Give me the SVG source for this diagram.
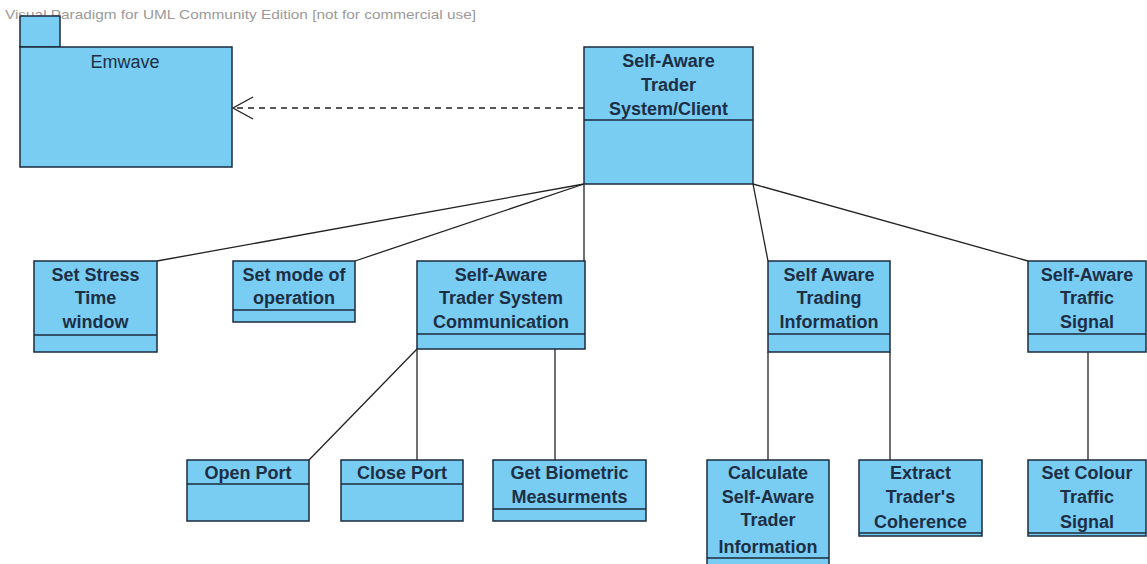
<svg xmlns="http://www.w3.org/2000/svg" width="1147" height="564" viewBox="0 0 1147 564">
  <style>
    .box { fill: #79ccf2; stroke: #1c2b3e; stroke-width: 1.5; }
    .sep { stroke: #1c2b3e; stroke-width: 1.5; fill: none; }
    .lbl { font-family: "Liberation Sans", Arial, sans-serif; font-size: 18px; font-weight: bold; fill: #1d2f45; text-anchor: middle; }
    .pkg { font-family: "Liberation Sans", Arial, sans-serif; font-size: 18px; fill: #1d2f45; text-anchor: middle; }
    .wm { font-family: "Liberation Sans", Arial, sans-serif; font-size: 13px; fill: #9a9a9a; }
    .conn { stroke: #222; stroke-width: 1.3; fill: none; }
    .dep { stroke: #222; stroke-width: 1.3; fill: none; stroke-dasharray: 6 5; }
  </style>
  <rect width="1147" height="564" fill="#ffffff"/>

  <text class="wm" x="5" y="19" textLength="471" lengthAdjust="spacingAndGlyphs">Visual Paradigm for UML Community Edition [not for commercial use]</text>

  <!-- connectors -->
  <g id="connectors">
    <line class="dep" x1="584" y1="108" x2="234" y2="108"/>
    <polyline class="conn" points="253,97 233,108 253,119"/>
    <line class="conn" x1="584" y1="184" x2="157" y2="261"/>
    <line class="conn" x1="584" y1="184" x2="355" y2="261"/>
    <line class="conn" x1="584" y1="184" x2="584" y2="261"/>
    <line class="conn" x1="753" y1="184" x2="768" y2="261"/>
    <line class="conn" x1="753" y1="184" x2="1028" y2="261"/>
    <line class="conn" x1="417" y1="349" x2="309" y2="460"/>
    <line class="conn" x1="417" y1="349" x2="417" y2="460"/>
    <line class="conn" x1="555" y1="349" x2="555" y2="460"/>
    <line class="conn" x1="768" y1="352" x2="768" y2="460"/>
    <line class="conn" x1="890" y1="352" x2="890" y2="460"/>
    <line class="conn" x1="1088" y1="352" x2="1088" y2="460"/>
  </g>

  <!-- package -->
  <g id="emwave">
    <rect class="box" x="20" y="16" width="40" height="31"/>
    <rect class="box" x="20" y="47" width="212" height="120"/>
    <text class="pkg" x="125" y="68">Emwave</text>
  </g>

  <g id="client">
    <rect class="box" x="584" y="47" width="169" height="137"/>
    <line class="sep" x1="584" y1="120" x2="753" y2="120"/>
    <text class="lbl" x="668.5" y="67">Self-Aware</text>
    <text class="lbl" x="668.5" y="91">Trader</text>
    <text class="lbl" x="668.5" y="115">System/Client</text>
  </g>

  <g id="stress-window">
    <rect class="box" x="34" y="261" width="123" height="91"/>
    <line class="sep" x1="34" y1="335" x2="157" y2="335"/>
    <text class="lbl" x="95.5" y="281">Set Stress</text>
    <text class="lbl" x="95.5" y="304">Time</text>
    <text class="lbl" x="95.5" y="328">window</text>
  </g>

  <g id="mode">
    <rect class="box" x="233" y="261" width="122" height="61"/>
    <line class="sep" x1="233" y1="310" x2="355" y2="310"/>
    <text class="lbl" x="294" y="281">Set mode of</text>
    <text class="lbl" x="294" y="304">operation</text>
  </g>

  <g id="communication">
    <rect class="box" x="417" y="261" width="168" height="88"/>
    <line class="sep" x1="417" y1="334" x2="585" y2="334"/>
    <text class="lbl" x="501" y="281">Self-Aware</text>
    <text class="lbl" x="501" y="304">Trader System</text>
    <text class="lbl" x="501" y="328">Communication</text>
  </g>

  <g id="trading-info">
    <rect class="box" x="768" y="261" width="122" height="91"/>
    <line class="sep" x1="768" y1="334" x2="890" y2="334"/>
    <text class="lbl" x="829" y="281">Self Aware</text>
    <text class="lbl" x="829" y="304">Trading</text>
    <text class="lbl" x="829" y="328">Information</text>
  </g>

  <g id="traffic-signal">
    <rect class="box" x="1028" y="261" width="118" height="91"/>
    <line class="sep" x1="1028" y1="334" x2="1146" y2="334"/>
    <text class="lbl" x="1087" y="281">Self-Aware</text>
    <text class="lbl" x="1087" y="304">Traffic</text>
    <text class="lbl" x="1087" y="328">Signal</text>
  </g>

  <g id="open-port">
    <rect class="box" x="187" y="460" width="122" height="61"/>
    <line class="sep" x1="187" y1="484" x2="309" y2="484"/>
    <text class="lbl" x="248" y="479">Open Port</text>
  </g>

  <g id="close-port">
    <rect class="box" x="341" y="460" width="122" height="61"/>
    <line class="sep" x1="341" y1="484" x2="463" y2="484"/>
    <text class="lbl" x="402" y="479">Close Port</text>
  </g>

  <g id="biometric">
    <rect class="box" x="493" y="460" width="153" height="61"/>
    <line class="sep" x1="493" y1="509" x2="646" y2="509"/>
    <text class="lbl" x="569.5" y="479">Get Biometric</text>
    <text class="lbl" x="569.5" y="503">Measurments</text>
  </g>

  <g id="calculate">
    <rect class="box" x="707" y="460" width="122" height="120"/>
    <line class="sep" x1="707" y1="558" x2="829" y2="558"/>
    <text class="lbl" x="768" y="479">Calculate</text>
    <text class="lbl" x="768" y="503">Self-Aware</text>
    <text class="lbl" x="768" y="526">Trader</text>
    <text class="lbl" x="768" y="553">Information</text>
  </g>

  <g id="coherence">
    <rect class="box" x="859" y="460" width="123" height="76"/>
    <line class="sep" x1="859" y1="533" x2="982" y2="533"/>
    <text class="lbl" x="920.5" y="479">Extract</text>
    <text class="lbl" x="920.5" y="503">Trader's</text>
    <text class="lbl" x="920.5" y="528">Coherence</text>
  </g>

  <g id="colour-signal">
    <rect class="box" x="1028" y="460" width="118" height="76"/>
    <line class="sep" x1="1028" y1="533" x2="1146" y2="533"/>
    <text class="lbl" x="1087" y="479">Set Colour</text>
    <text class="lbl" x="1087" y="503">Traffic</text>
    <text class="lbl" x="1087" y="528">Signal</text>
  </g>
</svg>
